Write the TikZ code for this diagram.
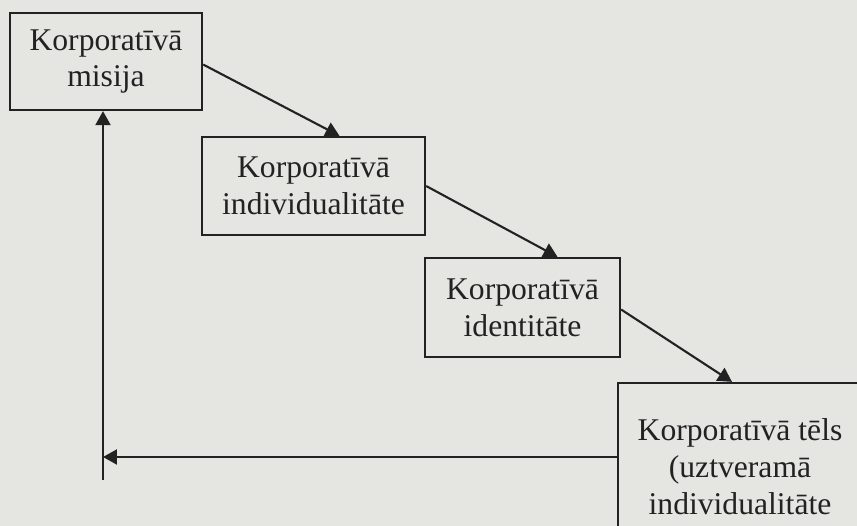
\documentclass[tikz,border=0pt]{standalone}
\usepackage{fontspec}
\setmainfont{Liberation Serif}
\usepackage{tikz}
\usetikzlibrary{arrows.meta,calc}
\definecolor{paper}{RGB}{229,229,226}
\definecolor{ink}{RGB}{34,34,34}

\begin{document}
\begin{tikzpicture}[x=0.02cm,y=-0.02cm,
                    box/.style={draw=ink,line width=1.3pt,align=center,text=ink,
                                font=\fontsize{18}{21}\selectfont,inner sep=0pt},
                    arr/.style={draw=ink,line width=1.2pt,
                                -{Triangle[length=0.28cm,width=0.3cm]}}]
                    \fill[paper] (0,0) rectangle (857,526);
                    \useasboundingbox (0,0) rectangle (857,526);
                    \node[box,minimum width=3.84cm,minimum height=1.94cm] (misija) at (106,61.5)
                        {Korporatīvā\\misija};
                    \node[box,minimum width=4.46cm,minimum height=1.96cm] (indiv) at (313.5,186)
                        {Korporatīvā\\individualitāte};
                    \node[box,minimum width=3.9cm,minimum height=1.98cm] (ident) at (522.5,307.5)
                        {Korporatīvā\\identitāte};
                    \node[box,minimum width=4.88cm,minimum height=3.36cm] (tels) at (740,467)
                        {Korporatīvā tēls\\(uztveramā\\individualitāte};
                    \coordinate (corner) at (103,457);
                    \coordinate (bottom) at (103,480);
                    \draw[arr] ($(misija.east)+(0,3)$) -- ($(indiv.north)+(26,0)$);
                    \draw[arr] (indiv.east) -- ($(ident.north)+(35,0)$);
                    \draw[arr] ($(ident.east)+(0,2)$) -- ($(tels.north)+(-8,0)$);
                    \draw[arr] ($(tels.west)+(0,-10)$) -- (corner);
                    \draw[arr] (bottom) -- (bottom |- misija.south);
                \end{tikzpicture}
\end{document}
